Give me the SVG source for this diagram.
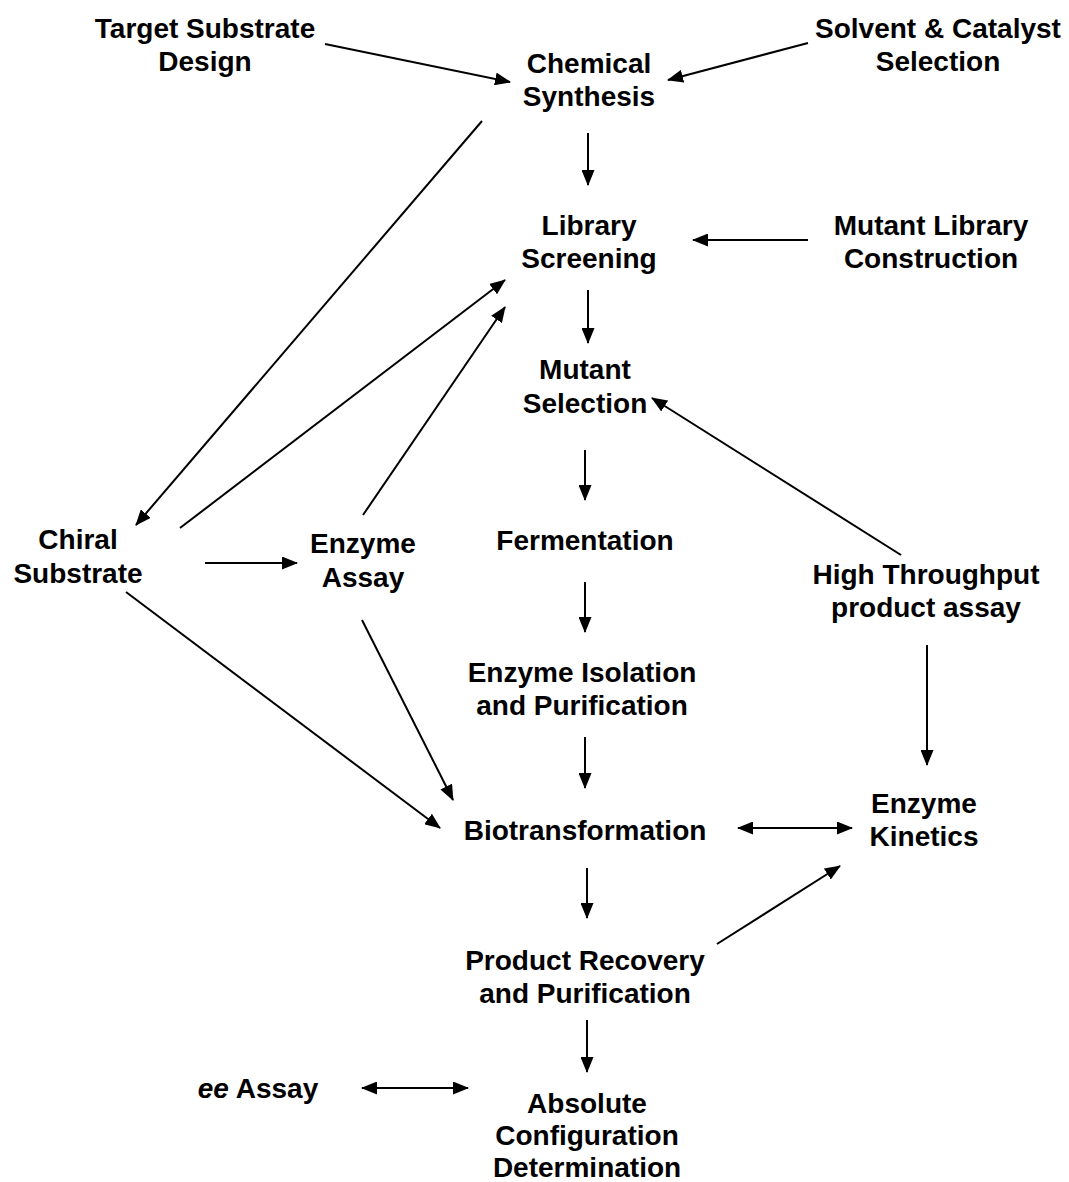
<svg xmlns="http://www.w3.org/2000/svg" width="1069" height="1182" viewBox="0 0 1069 1182">
<defs>
<style>
text{font-family:"Liberation Sans",Arial,sans-serif;font-weight:bold;font-size:28px;fill:#000;text-anchor:middle}
.c line{stroke:#000;stroke-width:2;fill:none}
</style>
<marker id="ah" viewBox="0 0 16 13" refX="15" refY="6.5" markerWidth="16" markerHeight="13" markerUnits="userSpaceOnUse" orient="auto-start-reverse">
<path d="M0,0L16,6.5L0,13z" fill="#000"/>
</marker>
</defs>
<rect width="1069" height="1182" fill="#fff"/>
<g id="n-target"><text x="205" y="38">Target Substrate</text><text x="205" y="71">Design</text></g>
<g id="n-chemical"><text x="589" y="73">Chemical</text><text x="589" y="106">Synthesis</text></g>
<g id="n-solvent"><text x="938" y="38">Solvent &amp; Catalyst</text><text x="938" y="71">Selection</text></g>
<g id="n-library"><text x="589" y="235">Library</text><text x="589" y="268">Screening</text></g>
<g id="n-mutlib"><text x="931" y="235">Mutant Library</text><text x="931" y="268">Construction</text></g>
<g id="n-mutsel"><text x="585" y="379">Mutant</text><text x="585" y="413">Selection</text></g>
<g id="n-ferment"><text x="585" y="550">Fermentation</text></g>
<g id="n-chiral"><text x="78" y="549">Chiral</text><text x="78" y="583">Substrate</text></g>
<g id="n-enzassay"><text x="363" y="553">Enzyme</text><text x="363" y="587">Assay</text></g>
<g id="n-htp"><text x="926" y="584">High Throughput</text><text x="926" y="617">product assay</text></g>
<g id="n-isol"><text x="582" y="682">Enzyme Isolation</text><text x="582" y="715">and Purification</text></g>
<g id="n-biot"><text x="585" y="840">Biotransformation</text></g>
<g id="n-kin"><text x="924" y="813">Enzyme</text><text x="924" y="846">Kinetics</text></g>
<g id="n-prod"><text x="585" y="970">Product Recovery</text><text x="585" y="1003">and Purification</text></g>
<g id="n-ee"><text x="258" y="1098"><tspan font-style="italic">ee</tspan> Assay</text></g>
<g id="n-abs"><text x="587" y="1113">Absolute</text><text x="587" y="1145">Configuration</text><text x="587" y="1177">Determination</text></g>
<g id="connectors" class="c">
<line x1="325" y1="44" x2="510" y2="82" marker-end="url(#ah)"/>
<line x1="808" y1="43" x2="668" y2="80" marker-end="url(#ah)"/>
<line x1="588" y1="133" x2="588" y2="185" marker-end="url(#ah)"/>
<line x1="808" y1="240" x2="693" y2="240" marker-end="url(#ah)"/>
<line x1="588" y1="290" x2="588" y2="343" marker-end="url(#ah)"/>
<line x1="482" y1="121" x2="136" y2="525" marker-end="url(#ah)"/>
<line x1="180" y1="528" x2="505" y2="280" marker-end="url(#ah)"/>
<line x1="363" y1="515" x2="505" y2="307" marker-end="url(#ah)"/>
<line x1="205" y1="563" x2="297" y2="563" marker-end="url(#ah)"/>
<line x1="126" y1="592" x2="440" y2="828" marker-end="url(#ah)"/>
<line x1="362" y1="620" x2="453" y2="800" marker-end="url(#ah)"/>
<line x1="901" y1="555" x2="652" y2="398" marker-end="url(#ah)"/>
<line x1="585" y1="450" x2="585" y2="500" marker-end="url(#ah)"/>
<line x1="585" y1="582" x2="585" y2="632" marker-end="url(#ah)"/>
<line x1="927" y1="645" x2="927" y2="765" marker-end="url(#ah)"/>
<line x1="585" y1="737" x2="585" y2="788" marker-end="url(#ah)"/>
<line x1="738" y1="828" x2="852" y2="828" marker-start="url(#ah)" marker-end="url(#ah)"/>
<line x1="587" y1="868" x2="587" y2="918" marker-end="url(#ah)"/>
<line x1="717" y1="944" x2="840" y2="866" marker-end="url(#ah)"/>
<line x1="587" y1="1020" x2="587" y2="1072" marker-end="url(#ah)"/>
<line x1="362" y1="1088" x2="468" y2="1088" marker-start="url(#ah)" marker-end="url(#ah)"/>
</g>
</svg>
